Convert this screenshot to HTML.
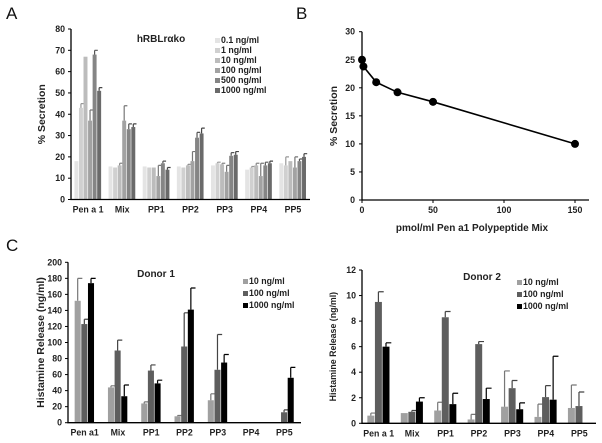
<!DOCTYPE html>
<html><head><meta charset="utf-8"><style>
body{margin:0;background:#fff}
svg{display:block;font-family:"Liberation Sans",Arial,sans-serif}
.t{font-weight:bold;font-size:8.8px;fill:#222}
.lab{font-size:17px;fill:#111}
</style></head><body>
<svg id="fig" width="602" height="443" viewBox="0 0 602 443" xmlns="http://www.w3.org/2000/svg">
<text class="lab" x="6" y="19">A</text>
<text class="lab" x="296" y="19">B</text>
<text class="lab" x="6" y="251">C</text>
</svg>
<script>
const NS='http://www.w3.org/2000/svg';
const svg=document.getElementById('fig');
function mk(tag,attrs,parent,text){const e=document.createElementNS(NS,tag);for(const k in attrs)e.setAttribute(k,attrs[k]);if(text!==undefined)e.textContent=text;(parent||svg).appendChild(e);return e;}

// Panel A data
const aCats=['Pen a 1','Mix','PP1','PP2','PP3','PP4','PP5'];
const aSeries=['0.1 ng/ml','1 ng/ml','10 ng/ml','100 ng/ml','500 ng/ml','1000 ng/ml'];
const aVals=[[18,15.5,15.5,15.5,16,14,17],[43,15,15,15,17,15,16],[67,16,15,16,16.5,16,18],[37,37,11,18,13,11,15],[68,33,17,29,20.5,16,18],[51,34,14,31,21,17,20]];
const aErr=[[18,15.5,15.5,15.5,16,14,17],[45,15,15,15,17.5,15.5,20],[67,17,15,16.5,17,17,18],[42,44,16,22.5,16,17,20],[70,35.5,18,31.5,22,17.5,19],[52.5,35.5,15,33.5,22.5,18,21.5]];
const aTicks=[0,10,20,30,40,50,60,70,80];
const aColors=['#e4e4e4','#d0d0d0','#bcbcbc','#a2a2a2','#858585','#6a6a6a'];

// Panel B data
const bX=[0,1,10,25,50,150];
const bY=[25,23.8,21,19.2,17.5,10];
const bYTicks=[0,5,10,15,20,25,30];
const bXTicks=[0,50,100,150];

// Panel C data
const cCats1=['Pen a1','Mix','PP1','PP2','PP3','PP4','PP5'];
const cCats2=['Pen a 1','Mix','PP1','PP2','PP3','PP4','PP5'];
const cSeries=['10 ng/ml','100 ng/ml','1000 ng/ml'];
const d1Vals=[[152,44,24,8,28,0,0],[123,90,65,95,66,0,13],[174,33,49,141,75,0,56]];
const d1Err=[[180,46,26,9,36,0,0],[129,103,72,137,110,0,16],[180,47,53,168,85,0,69]];
const d1Ticks=[0,20,40,60,80,100,120,140,160,180,200];
const d2Vals=[[0.6,0.8,1.0,0.3,1.3,0.5,1.2],[9.5,0.9,8.3,6.2,2.75,2.05,1.35],[6,1.7,1.5,1.9,1.1,1.85,0]];
const d2Err=[[0.8,0.8,1.65,0.7,4.1,1.5,3.0],[10.3,1.0,8.75,6.4,3.35,2.95,2.45],[6.3,2.0,2.35,2.75,1.6,5.25,0]];
const d2Ticks=[0,2,4,6,8,10,12];
const cColors=['#a0a0a0','#5e5e5e','#000000'];
const cErrColors=['#777777','#444444','#000000'];
const aErrColors=['#999','#999','#888','#777','#555','#444'];

function barChart(o){
  const g=mk('g',{});
  
  
  const ymax=o.ticks[o.ticks.length-1];
  const y=v=>o.y0-(v/ymax)*(o.y0-o.y1);
  const n=o.cats.length, step=(o.xEnd-o.x0)/n;
  const ns=o.vals.length, groupW=step*o.fill, bw=groupW/ns;
  const cx=i=>o.x0+step*(i+0.5)+o.shift;
  o.vals.forEach((ser,s)=>{
    ser.forEach((v,i)=>{
      const bx=cx(i)-groupW/2+s*bw;
      const r=mk('rect',{x:bx,y:y(v),width:bw-0.6,height:o.y0-y(v),fill:o.colors[s]},g);
      
      
      const e=o.err[s][i];
      if(e>v){const m=bx+(bw-0.6)/2;
        const l=mk('path',{d:`M${m},${y(v)}V${y(e)}M${m},${y(e)}H${m+bw*0.7}`,stroke:o.errColors[s],'stroke-width':1.2,fill:'none'},g);
        
        }
    });
  });
  const ax=mk('path',{d:`M${o.x0},${o.y1}V${o.y0}H${o.xEnd}`,stroke:'#000','stroke-width':1.3,fill:'none'},g);
  
  
  o.ticks.forEach(t=>{
    mk('line',{x1:o.x0-3,x2:o.x0,y1:y(t),y2:y(t),stroke:'#000'},g);
    const tx=mk('text',{x:o.x0-6,y:y(t)+3,'text-anchor':'end',class:'t'},g,String(t));
    
    
  });
  o.cats.forEach((c,i)=>{
    const tx=mk('text',{x:cx(i),y:o.y0+13,'text-anchor':'middle',class:'t'},g,c);
    
    
  });
  const yt=mk('text',{transform:`translate(${o.ytX},${(o.y0+o.y1)/2}) rotate(-90)`,'text-anchor':'middle',class:'t',style:'font-size:'+o.ytSize+'px'},g,o.ytitle);
  
  
  const ti=mk('text',{x:o.titleX,y:o.titleY,'text-anchor':'middle',class:'t',style:'font-size:10px'},g,o.title);
  
  
  o.series.forEach((s,k)=>{
    const ly=o.legY+k*o.legDy;
    const lr=mk('rect',{x:o.legX,y:ly-5,width:5,height:5,fill:o.colors[k]},g);
    
    
    const lt=mk('text',{x:o.legX+6,y:ly,class:'t'},g,s);
    
    
  });
}

barChart({name:'panel-a-chart',cats:aCats,series:aSeries,vals:aVals,err:aErr,ticks:aTicks,colors:aColors,errColors:aErrColors,
  x0:71,xEnd:310,y0:199.5,y1:29,fill:0.8,shift:0,ytitle:'% Secretion',ytX:45,ytSize:10.5,
  title:'hRBLrαko',titleX:161,titleY:42,legX:215,legY:43,legDy:10});
barChart({name:'donor1-chart',cats:cCats1,series:cSeries,vals:d1Vals,err:d1Err,ticks:d1Ticks,colors:cColors,errColors:cErrColors,
  x0:68,xEnd:301,y0:422.7,y1:262.3,fill:0.6,shift:0,ytitle:'Histamine Release (ng/ml)',ytX:44,ytSize:10.5,
  title:'Donor 1',titleX:156,titleY:277,legX:243,legY:284,legDy:12});
barChart({name:'donor2-chart',cats:cCats2,series:cSeries,vals:d2Vals,err:d2Err,ticks:d2Ticks,colors:cColors,errColors:cErrColors,
  x0:362,xEnd:596,y0:423.3,y1:270,fill:0.68,shift:0,ytitle:'Histamine Release (ng/ml)',ytX:336,ytSize:8.8,
  title:'Donor 2',titleX:482,titleY:280,legX:517,legY:285,legDy:12});

// Panel B
(function(){
  const g=mk('g',{});
  
  
  const x0=362,x150=575,xEnd=589,y0=200,y1=31.7;
  const X=v=>x0+v/150*(x150-x0), Y=v=>y0-v/30*(y0-y1);
  const ax=mk('path',{d:`M${x0},${y1}V${y0}H${xEnd}`,stroke:'#000','stroke-width':1.3,fill:'none'},g);
  
  
  bYTicks.forEach(t=>{mk('line',{x1:x0-3,x2:x0,y1:Y(t),y2:Y(t),stroke:'#000'},g);
    const tx=mk('text',{x:x0-7,y:Y(t)+3,'text-anchor':'end',class:'t'},g,String(t));
    
    });
  bXTicks.forEach(t=>{mk('line',{x1:X(t),x2:X(t),y1:y0,y2:y0+3,stroke:'#000'},g);
    const tx=mk('text',{x:X(t),y:y0+13,'text-anchor':'middle',class:'t'},g,String(t));
    
    });
  const ln=mk('polyline',{points:bX.map((v,i)=>X(v)+','+Y(bY[i])).join(' '),fill:'none',stroke:'#000','stroke-width':1.6},g);
  
  
  bX.forEach((v,i)=>{const c=mk('circle',{cx:X(v),cy:Y(bY[i]),r:4,fill:'#000'},g);
    
    });
  const yt=mk('text',{transform:`translate(337,116) rotate(-90)`,'text-anchor':'middle',class:'t',style:'font-size:10.5px'},g,'% Secretion');
  
  
  const xt=mk('text',{x:472,y:231,'text-anchor':'middle',class:'t',style:'font-size:10px'},g,'pmol/ml Pen a1 Polypeptide Mix');
  
  
})();
</script>
</body></html>
